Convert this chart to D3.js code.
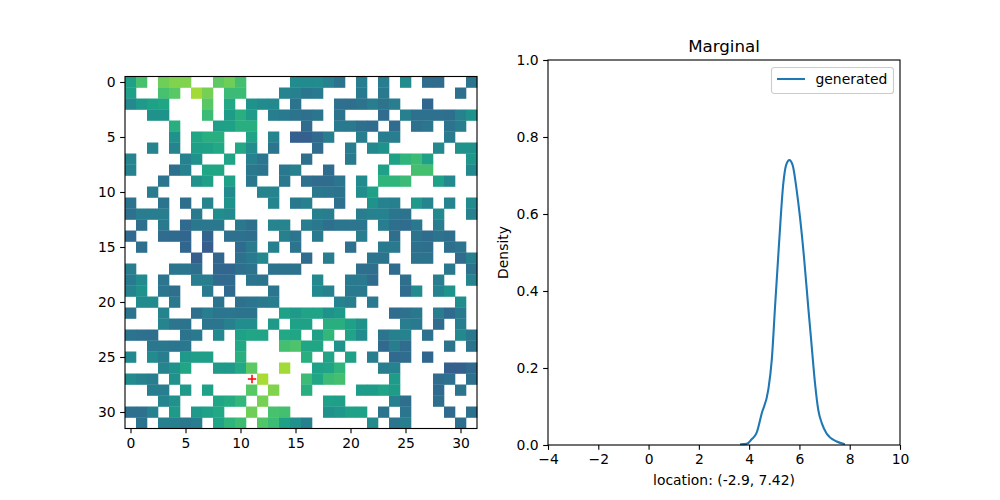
<!DOCTYPE html>
<html>
<head>
<meta charset="utf-8">
<script src="https://cdn.jsdelivr.net/npm/d3@7"></script>
<style>
  html, body { margin: 0; background: #fff; }
  text { font-family: "DejaVu Sans", sans-serif; fill: #000; }
</style>
</head>
<body>
<svg id="fig" width="1000" height="500"></svg>
<script>
const _ = null;

// viridis position (percent) per cell; _ is an empty cell
const gridValues = [
  [57,71,_,78,81,81,_,_,75,78,70,_,_,_,_,48,48,48,44,38,_,42,_,42,_,48,_,35,35,_,_,39],
  [57,_,_,71,74,_,86,79,_,68,68,_,_,_,45,43,39,41,_,_,_,41,_,41,_,_,_,_,_,_,36,_],
  [47,54,57,59,_,_,_,74,_,60,_,51,48,47,_,38,_,_,_,37,36,38,42,38,42,_,_,33,_,_,_,_],
  [_,_,51,51,_,_,_,68,_,55,63,55,_,42,41,38,37,39,_,38,_,_,_,35,_,43,37,37,37,36,44,51],
  [_,_,_,_,63,_,_,_,56,57,63,63,_,_,_,_,35,_,_,41,41,36,35,_,35,_,37,39,_,38,42,_],
  [_,_,_,_,51,_,59,63,63,_,_,58,_,45,_,30,30,34,42,_,_,42,_,42,42,_,_,_,_,41,_,_],
  [_,_,45,_,45,_,56,57,60,_,60,49,_,39,_,_,_,35,_,_,42,_,47,51,_,_,_,_,47,_,51,51],
  [45,_,_,_,_,44,51,_,_,58,_,44,39,_,_,_,36,_,_,_,41,_,_,_,57,65,68,57,_,_,_,53],
  [44,_,_,_,36,44,_,59,59,_,_,40,38,_,40,43,_,_,35,_,_,_,_,57,_,_,70,70,_,_,_,47],
  [_,_,_,39,_,_,50,56,_,57,_,40,_,_,40,_,37,35,35,39,_,48,_,65,65,68,_,_,57,47,_,_],
  [_,_,42,_,_,_,_,_,_,48,_,_,45,45,_,_,_,40,39,38,_,49,57,_,_,_,_,_,_,_,_,_],
  [38,_,_,38,_,36,_,45,_,51,_,_,_,45,_,40,43,_,_,37,_,_,51,44,43,_,54,45,_,45,_,48],
  [37,42,42,42,_,_,41,_,49,47,_,_,_,_,_,_,_,43,42,_,_,42,44,44,39,38,_,_,47,_,_,44],
  [_,36,_,41,_,34,40,40,40,_,40,36,_,45,45,_,42,40,36,39,39,39,_,42,36,35,40,_,42,_,_,_],
  [34,_,_,35,34,33,_,32,_,37,37,36,_,_,43,39,_,41,_,_,_,42,_,_,36,_,38,35,38,36,_,_],
  [_,36,_,_,_,33,_,29,_,_,34,41,_,43,_,38,_,_,_,_,37,_,_,41,41,_,37,36,_,36,39,_],
  [_,_,_,_,_,_,30,_,33,_,37,41,47,_,_,_,35,_,42,_,_,_,39,38,_,_,38,38,_,_,35,43],
  [42,_,_,_,39,39,36,_,33,33,36,38,_,38,38,38,_,_,_,_,_,36,36,_,35,_,_,_,_,40,_,38],
  [41,48,_,39,_,_,42,42,34,34,_,39,38,_,_,_,_,47,_,_,41,41,35,_,_,36,_,_,42,_,_,45],
  [44,51,_,39,36,_,_,41,_,34,_,_,_,39,_,_,_,47,44,_,41,41,_,_,_,35,48,_,44,51,_,_],
  [_,48,48,_,40,_,_,_,38,_,37,39,41,42,_,_,_,_,_,44,42,_,41,_,_,_,_,_,_,_,49,_],
  [38,_,_,45,_,_,36,42,39,39,38,38,_,_,57,54,58,58,51,54,_,_,_,_,35,37,40,_,42,34,41,_],
  [_,_,_,45,39,38,_,39,39,43,49,49,_,54,_,57,57,_,63,63,57,50,_,_,_,42,41,_,35,_,42,_],
  [38,37,36,_,_,38,41,_,47,_,57,59,58,_,60,59,_,57,66,_,58,48,_,39,43,44,_,37,_,_,47,40],
  [_,_,40,40,39,40,_,_,_,_,60,_,_,_,70,72,59,59,_,51,_,_,_,34,42,35,_,_,_,38,_,38],
  [47,_,48,42,_,54,56,56,_,_,63,_,_,_,_,_,63,_,58,_,57,_,42,_,34,35,_,33,_,_,_,_],
  [_,_,_,45,51,59,_,_,54,54,60,75,_,_,86,_,_,57,58,65,_,_,_,42,44,_,_,_,_,30,30,34],
  [48,44,42,_,50,_,_,_,_,_,_,_,87,_,_,_,68,59,68,70,_,_,_,_,55,_,_,_,35,37,_,37],
  [_,_,42,42,_,54,_,57,_,_,_,74,_,81,_,_,63,_,_,_,_,55,55,58,55,_,_,_,34,_,38,_],
  [_,_,_,45,50,_,_,_,59,61,66,_,79,_,_,_,_,_,57,56,_,_,_,_,43,36,_,_,36,_,_,_],
  [37,37,44,_,54,_,54,57,60,_,_,78,_,71,70,_,_,_,50,53,57,57,_,38,_,39,_,_,_,34,_,37],
  [_,38,_,43,43,40,42,_,58,65,69,_,73,68,57,50,43,_,_,_,_,_,48,_,39,42,_,_,_,_,36,_]
];

// red cross on the grid, [column, row]
const crossCell = [11, 27];

// marginal density curve
const curveX = [3.64,3.90,4.10,4.30,4.50,4.76,4.90,5.03,5.19,5.36,5.47,5.60,5.73,5.89,6.02,6.18,6.36,6.49,6.62,6.75,6.90,7.08,7.48,7.81];
const curveY = [0.002,0.003,0.015,0.032,0.082,0.143,0.221,0.359,0.524,0.680,0.727,0.740,0.727,0.662,0.593,0.489,0.351,0.255,0.160,0.091,0.055,0.030,0.009,0.002];

const gridTicks = [0, 5, 10, 15, 20, 25, 30];
const densityXTicks = [-4, -2, 0, 2, 4, 6, 8, 10];
const densityYTicks = [0, 0.2, 0.4, 0.6, 0.8, 1];

const FONT = 13.9, TICK = 4.86, STROKE = 1.11;

const svg = d3.select("#fig");
const color = d3.scaleSequential(d3.interpolateViridis).domain([0, 100]);

// same tick styling as the default matplotlib axes
function styleAxis(g) {
  g.select(".domain").remove();
  g.selectAll(".tick line").attr("stroke", "#000").attr("stroke-width", STROKE);
  g.selectAll(".tick text").attr("font-size", FONT).attr("fill", "#000");
}

function frame(x0, x1, y0, y1) {
  svg.append("rect")
    .attr("x", x0).attr("y", y0)
    .attr("width", x1 - x0).attr("height", y1 - y0)
    .attr("fill", "none")
    .attr("stroke", "#000")
    .attr("stroke-width", STROKE);
}

// left panel: grid
const gx = d3.scaleLinear().domain([-0.5, 31.5]).range([125, 477]);
const gy = d3.scaleLinear().domain([-0.5, 31.5]).range([76.5, 428.5]);

const cells = gridValues.flatMap((row, r) => row.map((v, c) => ({ r, c, v }))).filter(d => d.v !== null);

svg.append("g")
  .selectAll("rect")
  .data(cells)
  .join("rect")
  .attr("x", d => gx(d.c - 0.5))
  .attr("y", d => gy(d.r - 0.5))
  .attr("width", gx(1) - gx(0) + 0.3)
  .attr("height", gy(1) - gy(0) + 0.3)
  .attr("fill", d => color(d.v));

svg.append("path")
  .attr("transform", `translate(${gx(crossCell[0]) + 0.5},${gy(crossCell[1])})`)
  .attr("d", "M-4.2,0H4.2M0,-4.2V4.2")
  .attr("fill", "none")
  .attr("stroke", "#f00")
  .attr("stroke-width", 1.5);

frame(125, 477, 76.5, 428.5);

svg.append("g")
  .attr("transform", "translate(0,428.5)")
  .call(d3.axisBottom(gx).tickValues(gridTicks).tickSize(TICK).tickPadding(4.5))
  .call(styleAxis);

svg.append("g")
  .attr("transform", "translate(125,0)")
  .call(d3.axisLeft(gy).tickValues(gridTicks).tickSize(TICK).tickPadding(4.5))
  .call(styleAxis);

// right panel: density
const dx = d3.scaleLinear().domain([-4, 10]).range([548, 900]);
const dy = d3.scaleLinear().domain([0, 1]).range([445, 60]);

const line = d3.line().x(d => dx(d[0])).y(d => dy(d[1])).curve(d3.curveMonotoneX);

svg.append("path")
  .datum(d3.zip(curveX, curveY))
  .attr("d", line)
  .attr("fill", "none")
  .attr("stroke", "#1f77b4")
  .attr("stroke-width", 2.08);

frame(548, 900, 60, 445);

svg.append("g")
  .attr("transform", "translate(0,445)")
  .call(d3.axisBottom(dx).tickValues(densityXTicks).tickFormat(d3.format("d")).tickSize(TICK).tickPadding(4.5))
  .call(styleAxis);

svg.append("g")
  .attr("transform", "translate(548,0)")
  .call(d3.axisLeft(dy).tickValues(densityYTicks).tickFormat(d3.format(".1f")).tickSize(TICK).tickPadding(4.5))
  .call(styleAxis);

svg.append("text")
  .attr("x", 724).attr("y", 52)
  .attr("text-anchor", "middle")
  .attr("font-size", 16.67)
  .text("Marginal");

svg.append("text")
  .attr("x", 724).attr("y", 485)
  .attr("text-anchor", "middle")
  .attr("font-size", FONT)
  .text("location: (-2.9, 7.42)");

svg.append("text")
  .attr("transform", "translate(508,252.5) rotate(-90)")
  .attr("text-anchor", "middle")
  .attr("font-size", FONT)
  .text("Density");

// legend
const legend = svg.append("g").attr("transform", "translate(771,67)");
legend.append("rect")
  .attr("x", 0.5).attr("y", 0.5)
  .attr("width", 122).attr("height", 26)
  .attr("rx", 2.8)
  .attr("fill", "#fff")
  .attr("fill-opacity", 0.8)
  .attr("stroke", "#ccc")
  .attr("stroke-width", 1.11);
legend.append("line")
  .attr("x1", 6).attr("x2", 34)
  .attr("y1", 12).attr("y2", 12)
  .attr("stroke", "#1f77b4")
  .attr("stroke-width", 2.08);
legend.append("text")
  .attr("x", 44.5).attr("y", 17)
  .attr("font-size", FONT)
  .text("generated");
</script>
</body>
</html>
